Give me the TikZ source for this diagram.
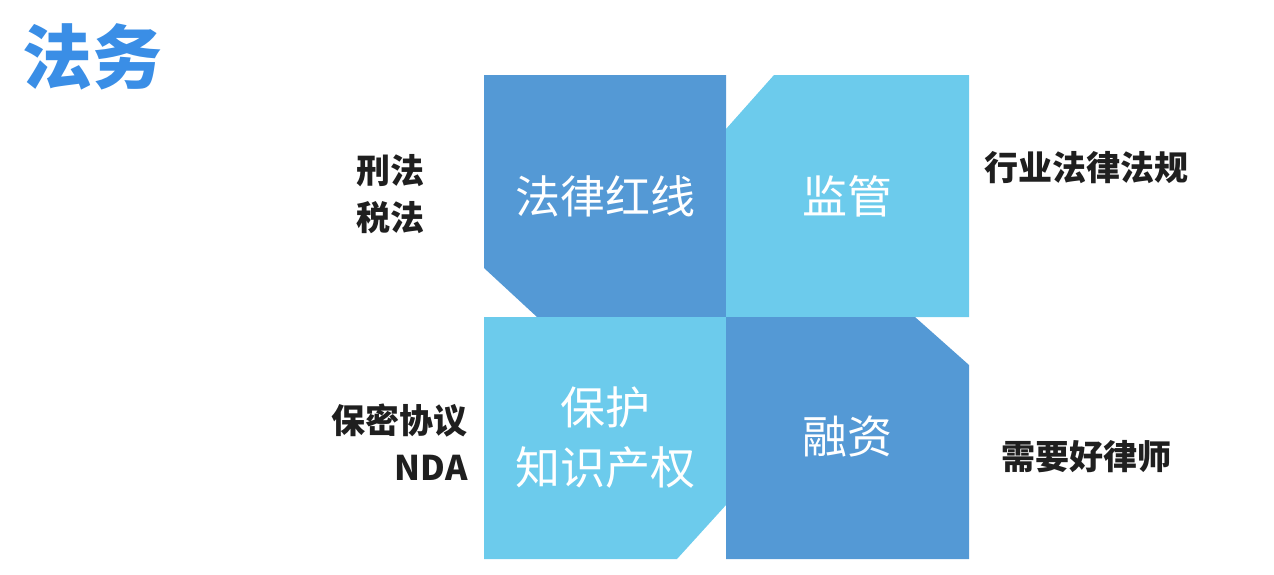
\documentclass[tikz,border=0pt]{standalone}
\usepackage{fontspec}
\setmainfont{Noto Sans CJK SC}
\definecolor{darkblue}{HTML}{5499D5}
\definecolor{lightblue}{HTML}{6CCBEC}
\definecolor{titleblue}{HTML}{3A8EE6}

\begin{document}
\begin{tikzpicture}[x=1pt,y=-1pt,
  quad/.style={text=white,font=\fontsize{45}{60}\selectfont,align=center},
  side/.style={text=black!88,font=\bfseries\fontsize{34}{47}\selectfont,align=center}]
\useasboundingbox (0,0) rectangle (1274,574);
% four squares, each with one corner cut off
\fill[darkblue] (484,75) -- (726,75) -- (726,317) -- (537,317) -- (484,268) -- cycle;
\fill[lightblue] (774,75) -- (969,75) -- (969,317) -- (726,317) -- (726,129) -- cycle;
\fill[lightblue] (484,317) -- (726,317) -- (726,505) -- (677,559) -- (484,559) -- cycle;
\fill[darkblue] (726,317) -- (915,317) -- (969,365) -- (969,559) -- (726,559) -- cycle;

\node[text=titleblue,font=\bfseries\fontsize{70}{70}\selectfont] (title) at (93,57) {法务};
\node[quad] (redline) at (605,196) {法律红线};
\node[quad] (regulate) at (847,196) {监管};
\node[quad] (ip) at (605,438) {保护\\知识产权};
\node[quad] (finance) at (847,437) {融资};
\node[side] (crimtax) at (390,194) {刑法\\税法};
\node[side,align=right,anchor=east] (nda) at (471,442) {保密协议\\NDA};
\node[side] (industry) at (1086,168) {行业法律法规};
\node[side] (lawyer) at (1086,457) {需要好律师};
\end{tikzpicture}
\end{document}
